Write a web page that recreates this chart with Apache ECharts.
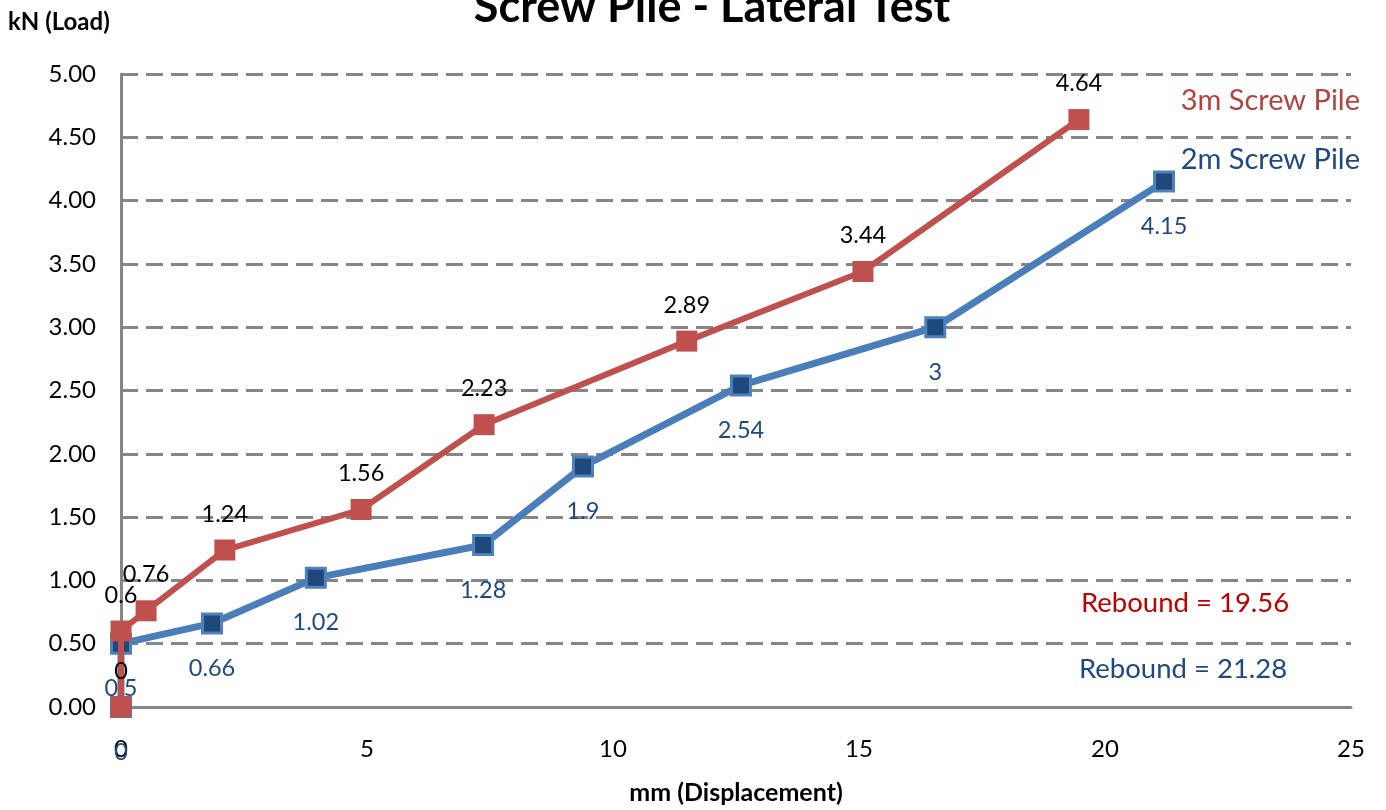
<!DOCTYPE html>
<html><head><meta charset="utf-8">
<script src="https://cdn.jsdelivr.net/npm/echarts@6/dist/echarts.min.js"></script>
<style>html,body{margin:0;padding:0;background:#fff}#c{width:1386px;height:810px}</style>
</head><body><div id="c"></div>
<script>
const titleText = 'Screw Pile - Lateral Test';
const yAxisName = 'kN (Load)';
const xAxisName = 'mm (Displacement)';
const seriesNames = ['2m Screw Pile', '3m Screw Pile'];
const blueX = [0, 0, 1.85, 3.96, 7.36, 9.39, 12.6, 16.55, 21.2];
const blueY = [0, 0.5, 0.66, 1.02, 1.28, 1.9, 2.54, 3, 4.15];
const redX = [0, 0, 0.51, 2.11, 4.88, 7.38, 11.5, 15.08, 19.47];
const redY = [0, 0.6, 0.76, 1.24, 1.56, 2.23, 2.89, 3.44, 4.64];
const reboundTexts = ['Rebound = 19.56', 'Rebound = 21.28'];

const FONT = 'Lato';
const chart = echarts.init(document.getElementById('c'));
const gridColor = '#868686';
chart.setOption({
  animation: false,
  textStyle: {fontFamily: FONT},
  title: {text: titleText, left: 707, textAlign: 'center', top: -20,
    textStyle: {fontFamily: FONT, fontSize: 45, fontWeight: 'bold', color: '#000'}},
  grid: {left: 121, right: 35, top: 74, bottom: 102},
  xAxis: {type: 'value', min: 0, max: 25, interval: 5,
    name: xAxisName, nameLocation: 'middle', nameGap: 73,
    nameTextStyle: {fontFamily: FONT, fontSize: 25, fontWeight: 'bold', color: '#000'},
    axisLine: {show: true, lineStyle: {color: gridColor, width: 3}},
    axisTick: {show: false}, splitLine: {show: false},
    axisLabel: {fontFamily: FONT, fontSize: 24, color: '#000', margin: 30}},
  yAxis: {type: 'value', min: 0, max: 5, interval: 0.5,
    name: yAxisName, nameLocation: 'end', nameGap: 0,
    nameTextStyle: {fontFamily: FONT, fontSize: 24, fontWeight: 'bold', color: '#000', align: 'left', padding: [0, 0, 40, -113]},
    axisLine: {show: true, lineStyle: {color: gridColor, width: 3}},
    axisTick: {show: false},
    splitLine: {show: true, lineStyle: {color: gridColor, width: 3, type: [17, 8]}},
    axisLabel: {fontFamily: FONT, fontSize: 24, color: '#000', margin: 25,
      formatter: v => v.toFixed(2)}},
  series: [
    {name: seriesNames[0], type: 'line', data: blueX.map((x, i) => [x, blueY[i]]),
      symbol: 'rect', symbolSize: 19,
      itemStyle: {color: '#1F497D', borderColor: '#4F81BD', borderWidth: 3},
      lineStyle: {color: '#4A7EBB', width: 7},
      label: {show: true, position: 'bottom', distance: 22, fontFamily: FONT, fontSize: 23.5, color: '#1F497D',
        formatter: p => String(p.value[1])}, z: 2},
    {name: seriesNames[1], type: 'line', data: redX.map((x, i) => [x, redY[i]]),
      symbol: 'rect', symbolSize: 21,
      itemStyle: {color: '#C0504D', borderColor: '#C0504D', borderWidth: 0},
      lineStyle: {color: '#C0504D', width: 6},
      label: {show: true, position: 'top', distance: 13.5, fontFamily: FONT, fontSize: 23.5, color: '#000',
        formatter: p => String(p.value[1])}, z: 3}
  ],
  graphic: [
    {type: 'text', right: 26, top: 86, style: {text: seriesNames[1], fontFamily: FONT, fontSize: 29, fill: '#B4423F'}},
    {type: 'text', right: 26, top: 145, style: {text: seriesNames[0], fontFamily: FONT, fontSize: 29, fill: '#1F497D'}},
    {type: 'text', left: 1081, top: 589, style: {text: reboundTexts[0], fontFamily: FONT, fontSize: 27.5, fill: '#C00000'}},
    {type: 'text', left: 1079, top: 655, style: {text: reboundTexts[1], fontFamily: FONT, fontSize: 27.5, fill: '#1F497D'}}
  ]
});
</script></body></html>
